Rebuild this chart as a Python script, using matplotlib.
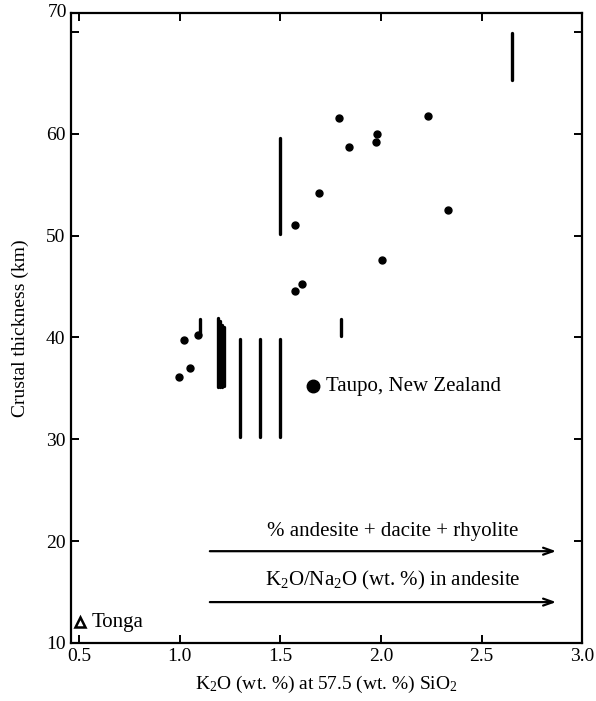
import matplotlib.pyplot as plt

plt.rcParams['font.family'] = ['Liberation Serif', 'DejaVu Serif']
plt.rcParams['mathtext.fontset'] = 'custom'
plt.rcParams['mathtext.rm'] = 'Liberation Serif'

# individual arcs: K2O at 57.5 % SiO2 vs crustal thickness
dot_k2o = [0.997, 1.05, 1.02, 1.09, 1.574, 1.607, 1.574, 1.69, 1.794,
           1.842, 1.975, 1.982, 2.007, 2.234, 2.333]
dot_crust = [36.1, 37.0, 39.7, 40.2, 44.6, 45.2, 51.0, 54.2, 61.5,
             58.7, 59.2, 60.0, 47.6, 61.7, 52.5]

# arcs given as a range of crustal thickness
bar_k2o = [1.10, 1.19, 1.20, 1.21, 1.22, 1.30, 1.40, 1.50, 1.50, 1.80, 2.65]
bar_low = [40.2, 35.1, 35.1, 35.1, 35.2, 30.2, 30.2, 30.2, 50.2, 40.1, 65.3]
bar_high = [41.8, 41.9, 41.6, 41.2, 41.0, 39.8, 39.8, 39.8, 59.6, 41.8, 69.9]

taupo = (1.66, 35.2)
tonga = (0.507, 12.0)

arrow_start = 1.15
arrow_end = 2.87
arrow_rows = [19.0, 14.0]
arrow_text = ['% andesite + dacite + rhyolite',
              r'K$\mathregular{_2}$O/Na$\mathregular{_2}$O (wt. %) in andesite']

fig = plt.figure(figsize=(5.96, 7.01), dpi=100)
ax = fig.add_axes([0.119, 0.083, 0.858, 0.899])

ax.vlines(bar_k2o, bar_low, bar_high, colors='k', linewidth=2.4,
          capstyle='round')
ax.plot(dot_k2o, dot_crust, 'o', color='k', markersize=5)
ax.plot(*taupo, 'o', color='k', markersize=9)
ax.annotate('Taupo, New Zealand', taupo, xytext=(10, 0),
            textcoords='offset points', va='center', fontsize=15)
ax.plot(*tonga, '^', markerfacecolor='white', markeredgecolor='k',
        markersize=6.5, markeredgewidth=1.8)
ax.annotate('Tonga', tonga, xytext=(8, 0), textcoords='offset points',
            va='center', fontsize=15)

for y, txt in zip(arrow_rows, arrow_text):
    ax.annotate('', xy=(arrow_end, y), xytext=(arrow_start, y),
                arrowprops=dict(arrowstyle='->,head_length=0.7,head_width=0.25',
                                lw=1.6, color='k', shrinkA=0, shrinkB=0))
    ax.text((arrow_start + arrow_end) / 2 + 0.05, y + 1.0, txt,
            ha='center', va='bottom', fontsize=15)

ax.set_xlim(0.46, 3.0)
ax.set_ylim(10, 71.9)
ax.set_xticks([0.5, 1.0, 1.5, 2.0, 2.5, 3.0])
ax.set_xticklabels(['0.5', '1.0', '1.5', '2.0', '2.5', '3.0'])
ax.set_yticks([10, 20, 30, 40, 50, 60, 70])
ax.set_yticklabels(['10', '20', '30', '40', '50', '60', ''])
ax.annotate('70', (0.46, 71.9), xytext=(-3, 0), textcoords='offset points',
            ha='right', va='center', fontsize=14, annotation_clip=False)
ax.tick_params(direction='in', length=6, width=1.4, top=True, right=True,
               labelsize=14, pad=4)
for s in ax.spines.values():
    s.set_linewidth(1.6)

ax.set_xlabel(r'K$\mathregular{_2}$O (wt. %) at 57.5 (wt. %) SiO$\mathregular{_2}$',
              fontsize=14, labelpad=6)
ax.set_ylabel('Crustal thickness (km)', fontsize=14, labelpad=12)

fig.savefig('out.png', dpi=100)
